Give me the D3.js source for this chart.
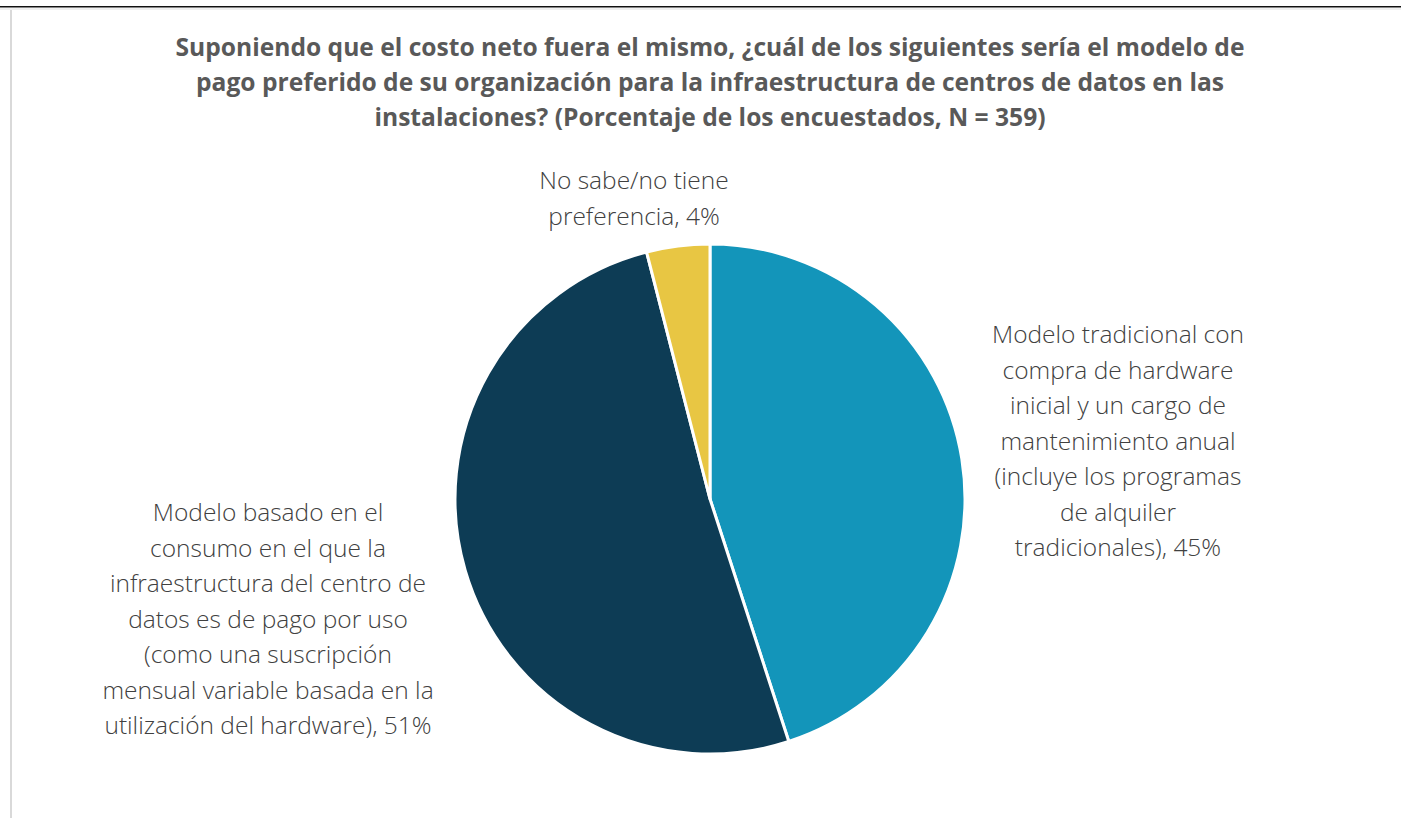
<!DOCTYPE html>
<html>
<head>
<meta charset="utf-8">
<script src="https://cdn.jsdelivr.net/npm/d3@7"></script>
<style>
  html, body { margin: 0; padding: 0; background: #fff; }
  svg { display: block; }
</style>
</head>
<body>
<div id="chart-area"></div>
<script>
/* Data */

const categories = [
  "Modelo tradicional con compra de hardware inicial y un cargo de mantenimiento anual (incluye los programas de alquiler tradicionales)",
  "Modelo basado en el consumo en el que la infraestructura del centro de datos es de pago por uso (como una suscripción mensual variable basada en la utilización del hardware)",
  "No sabe/no tiene preferencia"
]
const values = [45, 51, 4]
const colors = ["#1395BA", "#0D3C55", "#E8C643"]

// label lines as broken in the original
const labelLines = [
  ["Modelo tradicional con", "compra de hardware", "inicial y un cargo de", "mantenimiento anual", "(incluye los programas", "de alquiler", "tradicionales), 45%"],
  ["Modelo basado en el", "consumo en el que la", "infraestructura del centro de", "datos es de pago por uso", "(como una suscripción", "mensual variable basada en la", "utilización del hardware), 51%"],
  ["No sabe/no tiene", "preferencia, 4%"]
]

const titleLines = [
  "Suponiendo que el costo neto fuera el mismo, ¿cuál de los siguientes sería el modelo de",
  "pago preferido de su organización para la infraestructura de centros de datos en las",
  "instalaciones? (Porcentaje de los encuestados, N = 359)"
]

/* Chart area */

const WIDTH = 1401
const HEIGHT = 818
const CX = 710, CY = 499, R = 255

// where each label block's first baseline sits
const labelPos = [
  { x: 1118, y: 343 },
  { x: 268, y: 521 },
  { x: 634, y: 189 }
]

const svg = d3.select("#chart-area").append("svg")
  .attr("width", WIDTH)
  .attr("height", HEIGHT)

// page frame bits
svg.append("rect")
  .attr("x", 10).attr("y", 8)
  .attr("width", 2).attr("height", HEIGHT - 8)
  .attr("fill", "#d9d9d9")
svg.append("rect")
  .attr("x", 0).attr("y", 8)
  .attr("width", WIDTH).attr("height", 2)
  .attr("fill", "#f0f0f0")
svg.append("rect")
  .attr("x", 0).attr("y", 6)
  .attr("width", WIDTH).attr("height", 1.5)
  .attr("fill", "#111")

// title
svg.append("text")
  .attr("text-anchor", "middle")
  .style("font", "bold 24.6px 'Open Sans', sans-serif")
  .attr("fill", "#595959")
  .selectAll("tspan")
  .data(titleLines)
  .enter().append("tspan")
  .attr("x", CX)
  .attr("y", (d, i) => 56 + i * 35)
  .text(d => d)

/* Pie */

const pie = d3.pie().sort(null).value(d => d)
const arc = d3.arc().innerRadius(0).outerRadius(R)

const g = svg.append("g")
  .attr("transform", `translate(${CX}, ${CY})`)

g.selectAll("path")
  .data(pie(values))
  .enter().append("path")
  .attr("d", arc)
  .attr("fill", (d, i) => colors[i])
  .attr("stroke", "#fff")
  .attr("stroke-width", 3)
  .attr("stroke-linejoin", "round")

// labels
const labels = svg.selectAll(".label")
  .data(labelLines)
  .enter().append("text")
  .attr("class", "label")
  .attr("text-anchor", "middle")
  .style("font", "300 24.5px 'Open Sans', sans-serif")
  .attr("fill", "#404040")

labels.selectAll("tspan")
  .data((d, i) => d.map(t => ({ t, i })))
  .enter().append("tspan")
  .attr("x", d => labelPos[d.i].x)
  .attr("y", (d, j) => labelPos[d.i].y + j * 35.5)
  .text(d => d.t)
</script>
</body>
</html>
